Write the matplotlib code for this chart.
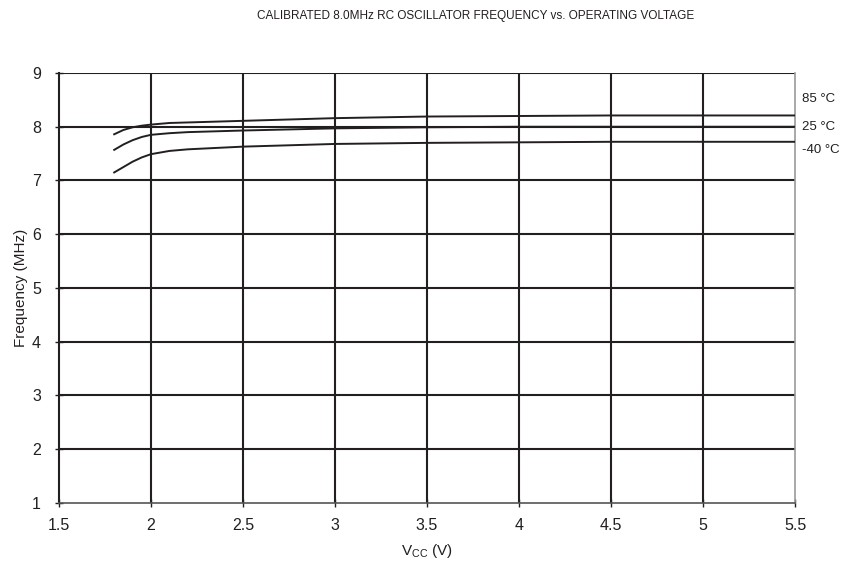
import matplotlib.pyplot as plt

plt.rcParams['font.family'] = ['Liberation Sans', 'DejaVu Sans']

# supply voltage (V)
vcc = [1.8, 1.85, 1.9, 1.95, 2.0, 2.1, 2.2, 2.5, 3.0, 3.5, 4.0, 4.5, 5.0, 5.5]

# frequency (MHz) per temperature
f_85 = [7.86, 7.94, 7.99, 8.02, 8.04, 8.07, 8.08, 8.11, 8.16, 8.19, 8.20, 8.21, 8.21, 8.21]
f_25 = [7.57, 7.67, 7.75, 7.81, 7.85, 7.88, 7.90, 7.93, 7.97, 7.99, 8.00, 8.00, 8.00, 8.00]
f_m40 = [7.15, 7.25, 7.35, 7.43, 7.49, 7.55, 7.58, 7.63, 7.68, 7.70, 7.71, 7.72, 7.72, 7.72]

labels = ['85 °C', '25 °C', '-40 °C']
x_ticks = [1.5, 2, 2.5, 3, 3.5, 4, 4.5, 5, 5.5]
x_ticklabels = ['1.5', '2', '2.5', '3', '3.5', '4', '4.5', '5', '5.5']
y_ticks = [1, 2, 3, 4, 5, 6, 7, 8, 9]

fig = plt.figure(figsize=(8.49, 5.73), dpi=100)
ax = fig.add_axes([0.0695, 0.1222, 0.8669, 0.7504])

grid_col = '#231f20'
for x in x_ticks[1:-1]:
    ax.axvline(x, color=grid_col, lw=1.5, zorder=1)
for y in y_ticks[1:]:
    ax.axhline(y, color=grid_col, lw=1.5, zorder=1)

for ys in (f_85, f_25, f_m40):
    ax.plot(vcc, ys, color=grid_col, lw=1.4, zorder=3)

ax.set_xlim(1.5, 5.5)
ax.set_ylim(1, 9)
ax.set_xticks(x_ticks)
ax.set_xticklabels(x_ticklabels)
ax.set_yticks(y_ticks)
ax.tick_params(direction='inout', length=6, width=1, colors=grid_col,
               labelsize=11.5)
ax.tick_params(axis='y', pad=10)
ax.tick_params(axis='x', pad=8)

ax.spines['left'].set_color(grid_col)
ax.spines['left'].set_linewidth(1.5)
ax.spines['bottom'].set_color('#555555')
ax.spines['bottom'].set_linewidth(1.2)
ax.spines['right'].set_color('#999999')
ax.spines['right'].set_linewidth(1.2)
ax.spines['top'].set_visible(False)

label_y = [8.52, 8.0, 7.57]
for lab, yv in zip(labels, label_y):
    ax.text(1.01, (yv - 1) / 8, lab, transform=ax.transAxes, fontsize=9.5,
            va='center', ha='left', color=grid_col)

ax.set_ylabel('Frequency (MHz)', fontsize=11, color=grid_col, labelpad=3)
ax.set_xlabel('V$_{\\mathregular{CC}}$ (V)', fontsize=11, color=grid_col, labelpad=6)

fig.text(0.56, 0.972, 'CALIBRATED 8.0MHz RC OSCILLATOR FREQUENCY vs. OPERATING VOLTAGE',
         ha='center', va='center', fontsize=8.5, color=grid_col)

fig.savefig('out.png', dpi=100)
